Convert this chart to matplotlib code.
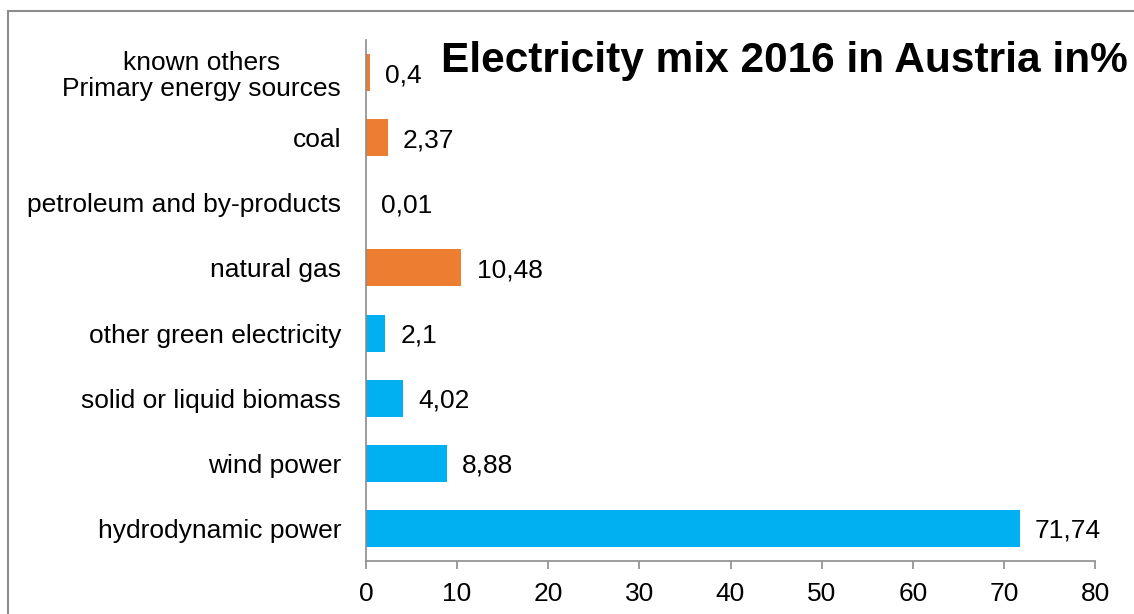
import matplotlib.pyplot as plt
from matplotlib.patches import Rectangle

plt.rcParams['font.family'] = ['Liberation Sans', 'DejaVu Sans']

# bottom to top
sources = [
    "hydrodynamic power",
    "wind power",
    "solid or liquid biomass",
    "other green electricity",
    "natural gas",
    "petroleum and by-products",
    "coal",
    "known others\nPrimary energy sources",
]
shares = [71.74, 8.88, 4.02, 2.1, 10.48, 0.01, 2.37, 0.4]
is_green = [True, True, True, True, False, False, False, False]
x_ticks = [0, 10, 20, 30, 40, 50, 60, 70, 80]

BLUE = "#00B0F0"
ORANGE = "#ED7D31"
GREY = "#8C8C8C"
FS = 19


def plot_mix(figure_name):
    fig = plt.figure(figsize=(11.34, 6.14), dpi=100)
    ax = fig.add_axes([366 / 1134, 53 / 614, 729 / 1134, 521 / 614])

    colors = [BLUE if g else ORANGE for g in is_green]
    pos = range(len(sources))
    ax.barh(pos, shares, height=0.57, color=colors)

    for y, v in zip(pos, shares):
        ax.annotate(f"{v:g}".replace(".", ","), xy=(v, y), xytext=(11, 0),
                    textcoords="offset points", va="center_baseline",
                    ha="left", fontsize=FS)

    ax.set_xlim(0, 80)
    ax.set_ylim(-0.5, len(sources) - 0.5)
    ax.set_xticks(x_ticks)
    ax.set_xticklabels([str(t) for t in x_ticks], fontsize=FS)
    ax.set_yticks(list(pos))
    ax.set_yticklabels(sources, fontsize=FS)
    for lbl in ax.get_yticklabels():
        lbl.set_multialignment("center")
        lbl.set_linespacing(1.1)

    ax.tick_params(axis="y", length=0, pad=18)
    ax.tick_params(axis="x", length=6, width=1.2, color=GREY, pad=9)
    for side in ("top", "right"):
        ax.spines[side].set_visible(False)
    for side in ("left", "bottom"):
        ax.spines[side].set_color(GREY)
        ax.spines[side].set_linewidth(1.2)

    fig.text(441 / 1134, (614 - 72) / 614, "Electricity mix 2016 in Austria in%",
             fontsize=30.5, fontweight="bold", ha="left", va="baseline")

    # outer frame running off the right and bottom edges
    fig.patches.append(Rectangle((8 / 1134, -0.1), 1.2, (0.1 + (614 - 11) / 614),
                                 transform=fig.transFigure, fill=False,
                                 edgecolor=GREY, linewidth=1.5))

    fig.savefig(figure_name, dpi=100)


if __name__ == "__main__":
    plot_mix("out.png")
